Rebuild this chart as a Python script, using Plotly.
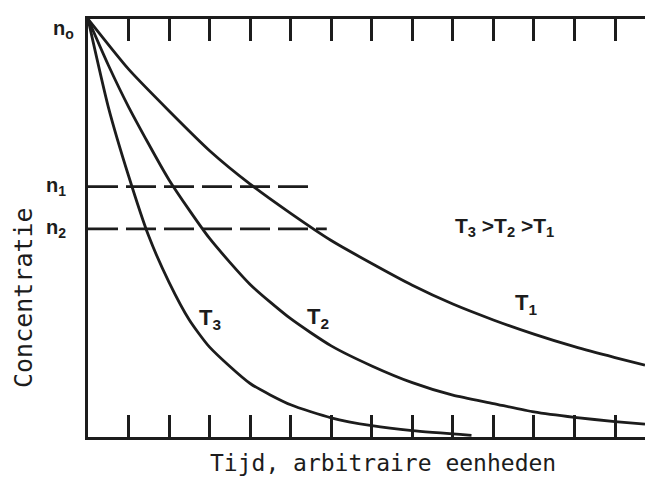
import plotly.graph_objects as go

# Concentration (fraction of n0) versus time in arbitrary units, read at tick marks
t1_time = [0, 1, 2, 3, 4, 5, 6, 7, 8, 9, 10, 11, 12, 13, 13.74]
t1_conc = [1.0, 0.88, 0.78, 0.685, 0.605, 0.535, 0.47, 0.415, 0.363, 0.318, 0.28, 0.246, 0.216, 0.19, 0.172]

t2_time = [0, 0.5, 1, 2, 3, 4, 5, 6, 7, 8, 9, 10, 11, 12, 13, 13.74]
t2_conc = [1.0, 0.89, 0.79, 0.615, 0.475, 0.365, 0.283, 0.218, 0.17, 0.13, 0.10, 0.08, 0.06, 0.047, 0.037, 0.031]

t3_time = [0, 0.5, 1, 1.5, 2, 2.5, 3, 4, 5, 6, 7, 8, 9.46]
t3_conc = [1.0, 0.79, 0.625, 0.48, 0.37, 0.28, 0.215, 0.128, 0.077, 0.046, 0.027, 0.015, 0.004]

# Reference concentration levels and where their dashed lines stop
levels = {"n1": 0.599, "n2": 0.498}
level_ends = {"n1": 5.47, "n2": 5.89}

x_title = "Tijd, arbitraire eenheden"
y_title = "Concentratie"

INK = "#1c1c1c"
W, H = 645, 478
ML, MR, MT, MB = 88, 0, 19, 41

fig = go.Figure()

for xs, ys in [(t1_time, t1_conc), (t2_time, t2_conc), (t3_time, t3_conc)]:
    fig.add_trace(go.Scatter(
        x=xs, y=ys, mode="lines",
        line=dict(color=INK, width=2.8, shape="spline", smoothing=0.6),
        hoverinfo="skip", showlegend=False,
    ))

for name, lvl in levels.items():
    fig.add_trace(go.Scatter(
        x=[0, level_ends[name]], y=[lvl, lvl], mode="lines",
        line=dict(color=INK, width=2.6, dash="30px,8px"),
        hoverinfo="skip", showlegend=False,
    ))


def text_at(text, px, py, size=21, family="Liberation Sans", angle=0):
    """Place a text centred on a pixel position of the page."""
    fig.add_annotation(
        x=(px - ML) / (W - ML - MR), y=1 - (py - MT) / (H - MT - MB),
        xref="paper", yref="paper", text=text, showarrow=False,
        xanchor="center", yanchor="middle", textangle=angle,
        font=dict(family=family, size=size, color=INK),
    )


# Level labels left of the axis
text_at("<b>n<sub>o</sub></b>", 63, 30, size=20)
text_at("<b>n<sub>1</sub></b>", 56, 186, size=20)
text_at("<b>n<sub>2</sub></b>", 56, 228, size=20)

# Curve labels and ordering note
text_at("<b>T<sub>3</sub> &gt;T<sub>2</sub> &gt;T<sub>1</sub></b>", 504, 227, size=21)
text_at("<b>T<sub>1</sub></b>", 526, 304, size=22)
text_at("<b>T<sub>2</sub></b>", 318, 318, size=22)
text_at("<b>T<sub>3</sub></b>", 210, 319, size=22)

# Axis titles
text_at(x_title, 383, 463, size=23, family="DejaVu Sans Mono")
text_at(y_title, 23, 298, size=25, family="DejaVu Sans Mono", angle=-90)

fig.update_layout(
    width=W, height=H,
    margin=dict(l=ML, r=MR, t=MT, b=MB),
    paper_bgcolor="white", plot_bgcolor="white",
    xaxis=dict(range=[0, 13.74], showgrid=False, zeroline=False,
               showline=True, linecolor=INK, linewidth=3, mirror="ticks",
               ticks="inside", ticklen=22, tickwidth=2.6, tickcolor=INK,
               tick0=0, dtick=1, showticklabels=False),
    yaxis=dict(range=[0, 1], showgrid=False, zeroline=False,
               showline=True, linecolor=INK, linewidth=3,
               ticks="", showticklabels=False),
)

fig.write_html("out.html")
